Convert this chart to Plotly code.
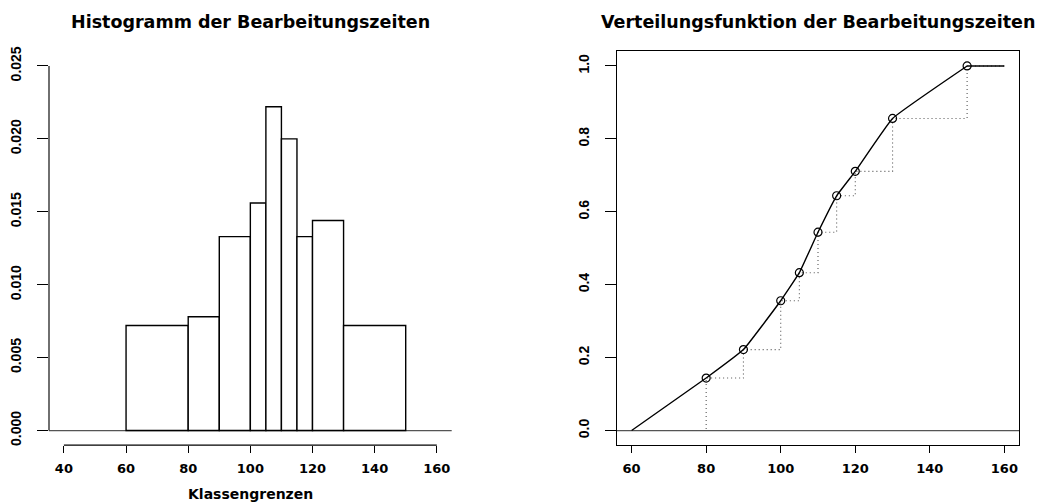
import plotly.graph_objects as go

# Histogram classes (class boundaries) and densities
breaks = [60, 80, 90, 100, 105, 110, 115, 120, 130, 150]
density = [0.0072, 0.0078, 0.0133, 0.0156, 0.0222, 0.0200, 0.0133, 0.0144, 0.0072]

# Empirical distribution function at the upper class boundaries
cdf_x = [60, 80, 90, 100, 105, 110, 115, 120, 130, 150, 160]
cdf_y = [0.0, 0.144, 0.222, 0.356, 0.433, 0.544, 0.644, 0.711, 0.856, 1.0, 1.0]

hist_xticks = [40, 60, 80, 100, 120, 140, 160]
hist_yticks = [0.000, 0.005, 0.010, 0.015, 0.020, 0.025]
hist_yticklabels = ["0.000", "0.005", "0.010", "0.015", "0.020", "0.025"]
cdf_xticks = [60, 80, 100, 120, 140, 160]
cdf_yticks = [0.0, 0.2, 0.4, 0.6, 0.8, 1.0]
cdf_yticklabels = ["0.0", "0.2", "0.4", "0.6", "0.8", "1.0"]

W, H = 1038, 502
FONT = "DejaVu Sans"
NARROW = "Liberation Sans Narrow, Liberation Sans, Arial"

mids = [(a + b) / 2 for a, b in zip(breaks[:-1], breaks[1:])]
widths = [b - a for a, b in zip(breaks[:-1], breaks[1:])]

fig = go.Figure()

# --- left panel: histogram ---
fig.add_trace(go.Bar(
    x=mids, y=density, width=widths, base=0,
    marker=dict(color="white", line=dict(color="black", width=1.4)),
    xaxis="x", yaxis="y", showlegend=False, hoverinfo="skip",
))

# --- right panel: distribution function ---
# step function (dotted)
fig.add_trace(go.Scatter(
    x=cdf_x, y=cdf_y, mode="lines",
    line=dict(color="#555555", width=1.1, dash="1px,3px", shape="hv"),
    xaxis="x2", yaxis="y2", showlegend=False, hoverinfo="skip",
))
# smoothed polygon through the class boundaries
fig.add_trace(go.Scatter(
    x=cdf_x[:-1], y=cdf_y[:-1], mode="lines",
    line=dict(color="black", width=1.4, shape="spline", smoothing=0.3),
    xaxis="x2", yaxis="y2", showlegend=False, hoverinfo="skip",
))
fig.add_trace(go.Scatter(
    x=cdf_x[-2:], y=cdf_y[-2:], mode="lines",
    line=dict(color="black", width=1.4),
    xaxis="x2", yaxis="y2", showlegend=False, hoverinfo="skip",
))
fig.add_trace(go.Scatter(
    x=cdf_x[1:-1], y=cdf_y[1:-1], mode="markers",
    marker=dict(symbol="circle-open", size=8, color="black", line=dict(width=1.2)),
    xaxis="x2", yaxis="y2", showlegend=False, hoverinfo="skip",
))

ydom = [1 - 445.46 / H, 1 - 46.94 / H]
xdom1 = [49 / W, 451.7 / W]
xdom2 = [616.7 / W, 1019.3 / W]

xtick_font = dict(family=FONT, size=13, color="black", weight="bold")
ytick_font = dict(family=NARROW, size=14, color="black", weight="bold")

common_x = dict(ticks="outside", ticklen=7, tickwidth=1.2, tickcolor="black",
                showgrid=False, zeroline=False, tickfont=xtick_font,
                ticklabelstandoff=4, fixedrange=True)
common_y = dict(ticks="outside", ticklen=11, tickwidth=1.2, tickcolor="black",
                showgrid=False, zeroline=False, tickfont=ytick_font,
                tickangle=-90, ticklabelstandoff=10, fixedrange=True)

title_font = dict(family=FONT, size=17.5, color="black", weight="bold")

fig.update_layout(
    width=W, height=H,
    margin=dict(l=0, r=0, t=0, b=0),
    paper_bgcolor="white", plot_bgcolor="white",
    xaxis=dict(domain=xdom1, range=[35.2, 164.8], tickvals=hist_xticks,
               showline=False, anchor="y", **common_x),
    yaxis=dict(domain=ydom, range=[-0.001, 0.026], tickvals=hist_yticks,
               ticktext=hist_yticklabels, showline=False, anchor="x", **common_y),
    xaxis2=dict(domain=xdom2, range=[56, 164], tickvals=cdf_xticks,
                showline=True, linecolor="black", linewidth=1.4, mirror=True,
                anchor="y2", **common_x),
    yaxis2=dict(domain=ydom, range=[-0.04, 1.04], tickvals=cdf_yticks,
                ticktext=cdf_yticklabels, showline=True, linecolor="black",
                linewidth=1.4, mirror=True, anchor="x2", **common_y),
    shapes=[
        # histogram axes (drawn only over the tick range, R style)
        dict(type="line", xref="x", yref="paper", x0=hist_xticks[0], x1=hist_xticks[-1],
             y0=ydom[0], y1=ydom[0], line=dict(color="black", width=1.4)),
        dict(type="line", xref="paper", yref="y", x0=xdom1[0], x1=xdom1[0],
             y0=hist_yticks[0], y1=hist_yticks[-1], line=dict(color="#333333", width=1.4)),
        # baseline at zero
        dict(type="line", xref="x domain", yref="y", x0=0, x1=1, y0=0, y1=0,
             line=dict(color="#555555", width=1.2), layer="below"),
        dict(type="line", xref="x2 domain", yref="y2", x0=0, x1=1, y0=0, y1=0,
             line=dict(color="#555555", width=1.2), layer="below"),
    ],
    annotations=[
        dict(text="Histogramm der Bearbeitungszeiten", xref="paper", yref="paper",
             x=(xdom1[0] + xdom1[1]) / 2, y=1 - 17 / H, xanchor="center", yanchor="middle",
             showarrow=False, font=title_font),
        dict(text="Verteilungsfunktion der Bearbeitungszeiten", xref="paper", yref="paper",
             x=(xdom2[0] + xdom2[1]) / 2, y=1 - 17 / H, xanchor="center", yanchor="middle",
             showarrow=False, font=title_font),
        dict(text="Klassengrenzen", xref="paper", yref="paper",
             x=(xdom1[0] + xdom1[1]) / 2, y=1 - 495 / H, xanchor="center", yanchor="middle",
             showarrow=False, font=dict(family=FONT, size=14, color="black", weight="bold")),
    ],
)

fig.write_html("out.html")
